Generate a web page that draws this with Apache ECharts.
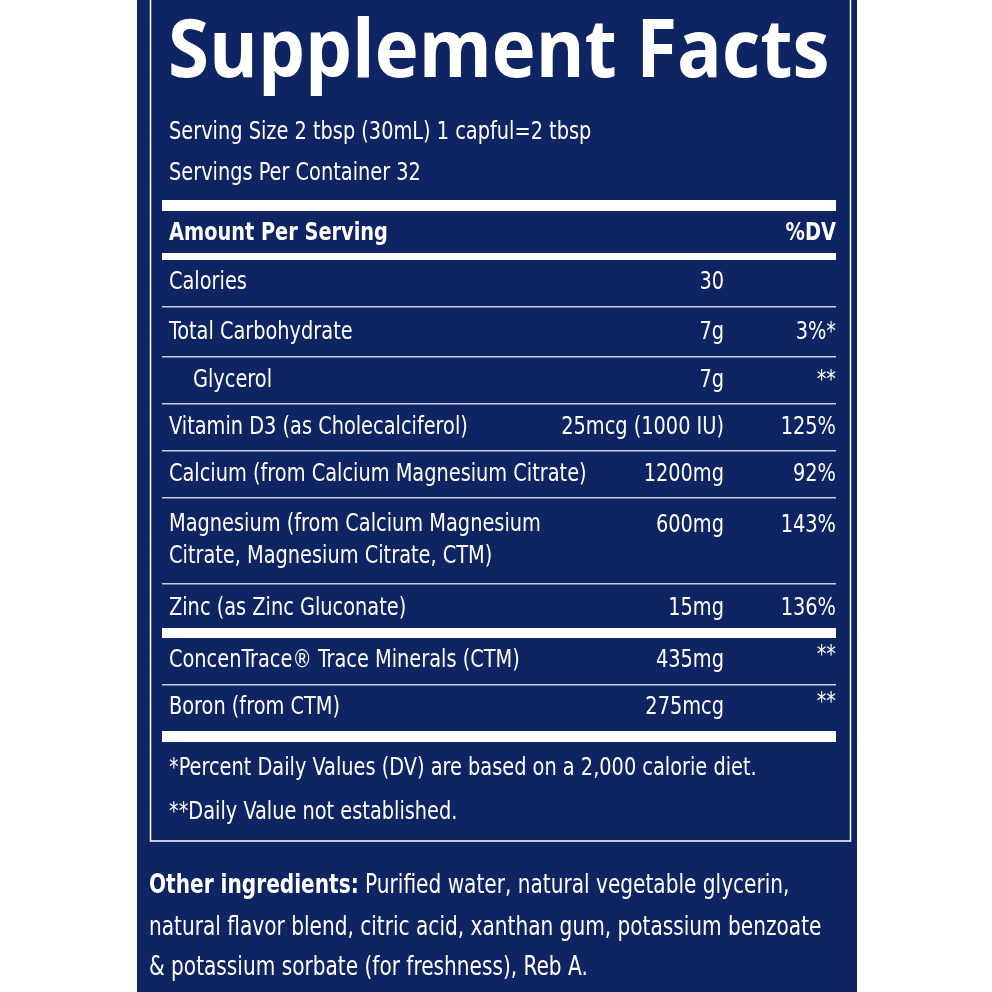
<!DOCTYPE html>
<html><head><meta charset="utf-8">
<script src="https://cdn.jsdelivr.net/npm/echarts@6/dist/echarts.min.js"></script>
<style>html,body{margin:0;padding:0;background:#fff}#c{width:992px;height:992px}</style>
</head><body><div id="c"></div>
<script>
var title = 'Supplement Facts';
var servingLines = ['Serving Size 2 tbsp (30mL) 1 capful=2 tbsp', 'Servings Per Container 32'];
var headerLeft = 'Amount Per Serving', headerRight = '%DV';
var nutrients = ['Calories','Total Carbohydrate','Glycerol','Vitamin D3 (as Cholecalciferol)','Calcium (from Calcium Magnesium Citrate)','Magnesium (from Calcium Magnesium\nCitrate, Magnesium Citrate, CTM)','Zinc (as Zinc Gluconate)'];
var amounts = ['30','7g','7g','25mcg (1000 IU)','1200mg','600mg','15mg'];
var dvs = ['','3%*','**','125%','92%','143%','136%'];
var traceNames = ['ConcenTrace® Trace Minerals (CTM)','Boron (from CTM)'];
var traceAmounts = ['435mg','275mcg'];
var traceDvs = ['**','**'];
var footnotes = ['*Percent Daily Values (DV) are based on a 2,000 calorie diet.','**Daily Value not established.'];
var otherLabel = 'Other ingredients:';
var otherLines = [' Purified water, natural vegetable glycerin,','natural flavor blend, citric acid, xanthan gum, potassium benzoate','& potassium sorbate (for freshness), Reb A.'];

var NAVY = '#0e2463', FONT = '"DejaVu Sans Condensed","Liberation Sans Narrow",sans-serif';
var SX = 0.86;
var g = [];
function txt(x,y,s,o){o=o||{};g.push({type:'text',x:x,y:y,scaleX:o.sx||SX,style:{text:s,fill:'#fff',font:(o.w||'normal')+' '+(o.size||25)+'px '+(o.f||FONT),textAlign:o.align||'left',textVerticalAlign:'middle',lineHeight:o.lh||32}});}
function bar(y,h){g.push({type:'rect',shape:{x:162,y:y,width:674,height:h},style:{fill:'#fff'}});}
g.push({type:'rect',shape:{x:137,y:0,width:720,height:992},style:{fill:NAVY}});
g.push({type:'rect',shape:{x:150.5,y:-2,width:700,height:843},style:{fill:'none',stroke:'#fff',lineWidth:1.5}});
txt(168,54,title,{size:80,w:'bold',f:'"Open Sans",sans-serif',sx:0.93});
txt(169,132,servingLines[0]);txt(169,173,servingLines[1]);
bar(200,11);
txt(169,233,headerLeft,{w:'bold'});txt(836,233,headerRight,{w:'bold',align:'right'});
bar(253,7);
var rowH=[50,50,47,47,47,86,48];
var y=257;
nutrients.forEach(function(n,i){
  var h=rowH[i], two=n.indexOf('\n')>=0;
  var cy=y+(two?h/2-1:h/2);
  txt(i==2?193:169,cy,n,{lh:32});
  txt(724,two?cy-15:cy,amounts[i],{align:'right'});
  txt(836,two?cy-15:cy,dvs[i],{align:'right'});
  y+=h;
  if(i<nutrients.length-1) g.push({type:'rect',shape:{x:162,y:y-1,width:674,height:1.5},style:{fill:'#c8cfe0'}});
});
bar(628,10);
var ty=[660,707];
traceNames.forEach(function(n,i){txt(169,ty[i],n);txt(724,ty[i],traceAmounts[i],{align:'right'});txt(836,ty[i]-5,traceDvs[i],{align:'right'});});
g.push({type:'rect',shape:{x:162,y:684,width:674,height:1.5},style:{fill:'#c8cfe0'}});
bar(731,11);
txt(169,768,footnotes[0]);txt(169,812,footnotes[1]);
g.push({type:'text',x:149,y:886,scaleX:SX,style:{rich:{b:{fill:'#fff',font:'bold 26px '+FONT},n:{fill:'#fff',font:'26px '+FONT}},text:'{b|'+otherLabel+'}{n|'+otherLines[0]+'}',textVerticalAlign:'middle'}});
txt(149,928,otherLines[1],{size:26});txt(149,968,otherLines[2],{size:26});
var chart=echarts.init(document.getElementById('c'));
chart.setOption({animation:false,graphic:{elements:g}});
</script></body></html>
